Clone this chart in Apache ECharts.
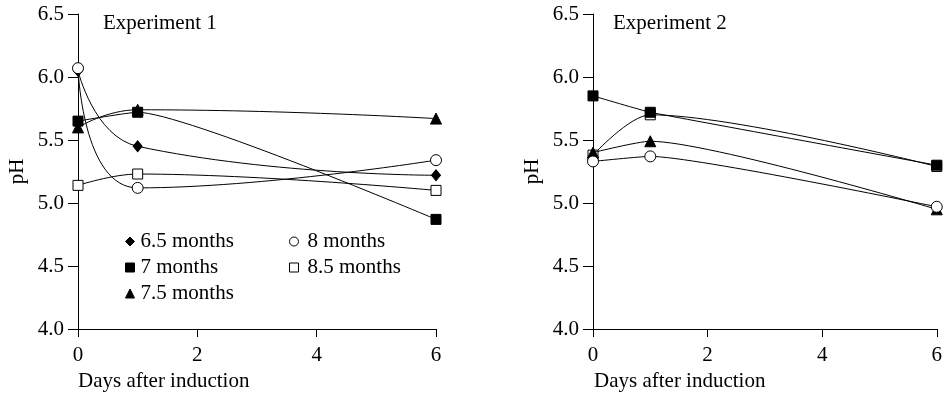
<!DOCTYPE html>
<html>
<head>
<meta charset="utf-8">
<script src="https://cdn.jsdelivr.net/npm/echarts@6/dist/echarts.min.js"></script>
<style>html,body{margin:0;padding:0;background:#fff;}#c{width:945px;height:394px;}</style>
</head>
<body>
<div id="c"></div>
<script>
// ---- data ----
var days = [0, 1, 6];
var xTicks = [0, 2, 4, 6];
var yTicks = [4.0, 4.5, 5.0, 5.5, 6.0, 6.5];
var seriesNames = ['6.5 months', '7 months', '7.5 months', '8 months', '8.5 months'];
// Experiment 1
var exp1_m65 = [6.05, 5.45, 5.22];
var exp1_m7  = [5.65, 5.72, 4.87];
var exp1_m75 = [5.60, 5.74, 5.67];
var exp1_m8  = [6.07, 5.12, 5.34];
var exp1_m85 = [5.14, 5.23, 5.10];
// Experiment 2
var exp2_m7  = [5.85, 5.72, 5.30];
var exp2_m75 = [5.40, 5.49, 4.95];
var exp2_m8  = [5.33, 5.37, 4.97];
var exp2_m85 = [5.38, 5.70, 5.29];

var FONT = 'Liberation Serif';
var FS = 21;

function pairs(vals) { return days.map(function (d, i) { return [d, vals[i]]; }); }

var symbolStyle = {
  '6.5 months': { symbol: 'diamond', size: [9, 11], fill: '#000' },
  '7 months':   { symbol: 'rect', size: 10, fill: '#000' },
  '7.5 months': { symbol: 'triangle', size: 11, fill: '#000' },
  '8 months':   { symbol: 'circle', size: 11, fill: '#fff' },
  '8.5 months': { symbol: 'rect', size: 10, fill: '#fff' }
};

function mkSeries(name, vals, gi, z, smooth) {
  var s = symbolStyle[name];
  return {
    type: 'line', name: name, xAxisIndex: gi, yAxisIndex: gi,
    data: pairs(vals), smooth: smooth, clip: false,
    symbol: s.symbol, symbolSize: s.size, showAllSymbol: true,
    itemStyle: { color: s.fill, borderColor: '#000', borderWidth: 1 },
    lineStyle: { color: '#000', width: 1 },
    emphasis: { disabled: true }, z: z, zlevel: 0
  };
}

function xAxis(gi) {
  return {
    type: 'value', gridIndex: gi, min: 0, max: 6, interval: 2,
    axisLine: { show: true, onZero: false, lineStyle: { color: '#000', width: 1 } },
    axisTick: { show: true, length: 8, lineStyle: { color: '#000' } },
    axisLabel: { margin: 16, color: '#000', fontFamily: FONT, fontSize: FS },
    splitLine: { show: false }
  };
}
function yAxis(gi) {
  return {
    type: 'value', gridIndex: gi, min: 4, max: 6.5, interval: 0.5,
    name: 'pH', nameLocation: 'middle', nameGap: 50,
    nameTextStyle: { color: '#000', fontFamily: FONT, fontSize: FS },
    axisLine: { show: true, onZero: false, lineStyle: { color: '#000', width: 1 } },
    axisTick: { show: true, length: 10, lineStyle: { color: '#000' } },
    axisLabel: { margin: 14, color: '#000', fontFamily: FONT, fontSize: FS,
      formatter: function (v) { return v.toFixed(1); } },
    splitLine: { show: false }
  };
}

function legendItem(name) {
  var s = symbolStyle[name];
  return { name: name, icon: s.symbol,
    itemStyle: { color: s.fill, borderColor: '#000', borderWidth: 1 } };
}

var option = {
  animation: false,
  backgroundColor: '#fff',
  textStyle: { fontFamily: FONT },
  title: [
    { text: 'Experiment 1', left: 103, top: 13, padding: 0,
      textStyle: { fontFamily: FONT, fontSize: FS, fontWeight: 'normal', color: '#000' } },
    { text: 'Experiment 2', left: 613, top: 13, padding: 0,
      textStyle: { fontFamily: FONT, fontSize: FS, fontWeight: 'normal', color: '#000' } }
  ],
  graphic: [
    { type: 'text', left: 78, top: 371, style: { text: 'Days after induction', font: FS + 'px "' + FONT + '"', fill: '#000' } },
    { type: 'text', left: 594, top: 371, style: { text: 'Days after induction', font: FS + 'px "' + FONT + '"', fill: '#000' } }
  ],
  legend: [
    { orient: 'vertical', left: 125, top: 231, padding: 0, itemGap: 5, itemWidth: 9, itemHeight: 9,
      selectedMode: false,
      textStyle: { fontFamily: FONT, fontSize: FS, color: '#000', padding: [0, 0, 0, 1] },
      data: [legendItem('6.5 months'), legendItem('7 months'), legendItem('7.5 months')] },
    { orient: 'vertical', left: 289, top: 231, padding: 0, itemGap: 5, itemWidth: 9, itemHeight: 9,
      selectedMode: false,
      textStyle: { fontFamily: FONT, fontSize: FS, color: '#000', padding: [0, 0, 0, 4] },
      data: [legendItem('8 months'), legendItem('8.5 months')] }
  ],
  grid: [
    { left: 78, right: 509, top: 14, bottom: 65 },
    { left: 593, right: 7, top: 14, bottom: 65 }
  ],
  xAxis: [xAxis(0), xAxis(1)],
  yAxis: [yAxis(0), yAxis(1)],
  series: [
    mkSeries('6.5 months', exp1_m65, 0, 2, 0.5),
    mkSeries('7 months', exp1_m7, 0, 3, 0.15),
    mkSeries('7.5 months', exp1_m75, 0, 2, 0.5),
    mkSeries('8 months', exp1_m8, 0, 2, 0.5),
    mkSeries('8.5 months', exp1_m85, 0, 2, 0.4),
    mkSeries('8.5 months', exp2_m85, 1, 2, 0.3),
    mkSeries('7 months', exp2_m7, 1, 4, 0.1),
    mkSeries('7.5 months', exp2_m75, 1, 3, 0.2),
    mkSeries('8 months', exp2_m8, 1, 3, 0.15)
  ]
};
var chart = echarts.init(document.getElementById('c'), null, { renderer: 'canvas' });
chart.setOption(option);
</script>
</body>
</html>
